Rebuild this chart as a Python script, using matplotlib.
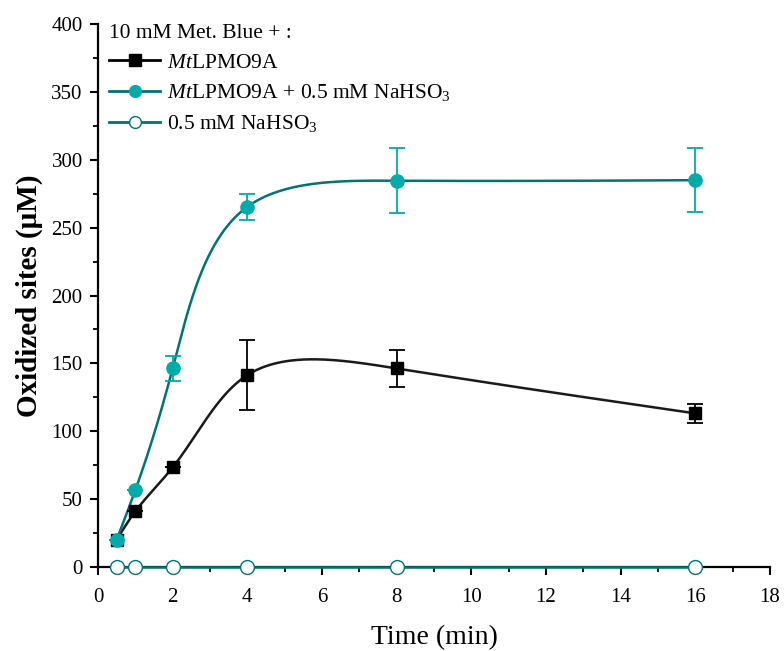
import numpy as np
import matplotlib
matplotlib.use("Agg")
import matplotlib.pyplot as plt
from matplotlib.ticker import MultipleLocator

plt.rcParams["font.family"] = ["Liberation Serif", "DejaVu Serif"]
plt.rcParams["mathtext.fontset"] = "custom"
plt.rcParams["mathtext.rm"] = "Liberation Serif"
plt.rcParams["mathtext.it"] = "Liberation Serif:italic"
plt.rcParams["mathtext.bf"] = "Liberation Serif:bold"

# Sampling times (min)
time_min = [0.5, 1, 2, 4, 8, 16]

# Oxidized sites (µM) and standard deviations
lpmo_mean = [20, 41, 73.4, 141.4, 146.3, 113.2]
lpmo_err = [0, 0, 0, 26, 13.5, 7]
lpmo_bis_mean = [20, 56.7, 146.3, 265.4, 284.6, 285.0]
lpmo_bis_err = [0, 0, 9, 9.5, 24, 23.5]
bis_mean = [0, 0, 0, 0, 0, 0]

legend_title = "10 mM Met. Blue + :"
labels = [r"$Mt$LPMO9A",
          r"$Mt$LPMO9A + 0.5 mM NaHSO$_3$",
          r"0.5 mM NaHSO$_3$"]

XMAX, YMAX = 18, 400


def natural_coeffs(t, v):
    k = len(t)
    h = np.diff(t)
    A = np.zeros((k, k))
    b = np.zeros(k)
    A[0, 0] = A[-1, -1] = 1.0
    for i in range(1, k - 1):
        A[i, i - 1] = h[i - 1]
        A[i, i] = 2 * (h[i - 1] + h[i])
        A[i, i + 1] = h[i]
        b[i] = 6 * ((v[i + 1] - v[i]) / h[i] - (v[i] - v[i - 1]) / h[i - 1])
    return np.linalg.solve(A, b)


def eval_spline(t, v, M, ts):
    k = len(t)
    idx = np.clip(np.searchsorted(t, ts) - 1, 0, k - 2)
    t0, t1 = t[idx], t[idx + 1]
    hh = t1 - t0
    a = (t1 - ts) / hh
    c = (ts - t0) / hh
    return (a * v[idx] + c * v[idx + 1]
            + ((a ** 3 - a) * M[idx] + (c ** 3 - c) * M[idx + 1]) * hh ** 2 / 6)


def parametric_spline(x, y, sx, sy, n=600):
    """Parametric natural cubic spline, chord-length parameter in scaled units."""
    x = np.asarray(x, float)
    y = np.asarray(y, float)
    u, w = x * sx, y * sy
    t = np.concatenate([[0], np.cumsum(np.hypot(np.diff(u), np.diff(w)))])
    ts = np.linspace(0, t[-1], n)
    xs = eval_spline(t, x, natural_coeffs(t, x), ts)
    ys = eval_spline(t, y, natural_coeffs(t, y), ts)
    return xs, ys


dark_teal = "#007373"
teal = "#00ABA8"

fig = plt.figure(figsize=(7.84, 6.51), dpi=100)
ax = fig.add_axes([0.125, 0.129, 0.857, 0.834])

# scale factors: axis data units -> approx. screen units
sx = 0.857 * 784 / XMAX
sy = 0.834 * 651 / YMAX

# MtLPMO9A
xs, ys = parametric_spline(time_min, lpmo_mean, sx, sy)
ax.plot(xs, ys, color="#1a1a1a", lw=1.8, zorder=3)
ax.errorbar(time_min, lpmo_mean, yerr=lpmo_err, fmt="none", ecolor="black",
            elinewidth=1.3, capsize=6, capthick=1.3, zorder=4)
ax.plot(time_min, lpmo_mean, ls="none", marker="s", ms=8.5, color="black", zorder=5)

# MtLPMO9A + NaHSO3
xs, ys = parametric_spline(time_min, lpmo_bis_mean, sx, sy)
ax.plot(xs, ys, color=dark_teal, lw=1.8, zorder=3)
ax.errorbar(time_min, lpmo_bis_mean, yerr=lpmo_bis_err, fmt="none", ecolor=teal,
            elinewidth=1.3, capsize=6, capthick=1.3, zorder=4)
ax.plot(time_min, lpmo_bis_mean, ls="none", marker="o", ms=9.5, color=teal, zorder=5)

# NaHSO3 only
ax.plot(time_min, bis_mean, color=dark_teal, lw=1.8, zorder=6, clip_on=False)
ax.plot(time_min, bis_mean, ls="none", marker="o", ms=10, mfc="white",
        mec=dark_teal, mew=1.0, zorder=7, clip_on=False)

# Legend proxies (line + marker)
h1, = ax.plot([], [], color="black", lw=2.0, marker="s", ms=8)
h2, = ax.plot([], [], color=dark_teal, lw=2.0, marker="o", ms=8.5,
              mfc=teal, mec=teal)
h3, = ax.plot([], [], color=dark_teal, lw=2.0, marker="o", ms=8.5,
              mfc="white", mec=dark_teal, mew=1.0)
leg = ax.legend([h1, h2, h3], labels, title=legend_title, loc="upper left",
                bbox_to_anchor=(0.0, 1.02), frameon=False, fontsize=15.5,
                title_fontsize=15.5, handlelength=2.4, handletextpad=0.3,
                labelspacing=0.45, borderaxespad=0.3, borderpad=0.2)
leg._legend_box.align = "left"

ax.set_xlim(0, XMAX)
ax.set_ylim(0, YMAX)
ax.xaxis.set_major_locator(MultipleLocator(2))
ax.xaxis.set_minor_locator(MultipleLocator(1))
ax.yaxis.set_major_locator(MultipleLocator(50))
ax.yaxis.set_minor_locator(MultipleLocator(25))

for side in ("top", "right"):
    ax.spines[side].set_visible(False)
for side in ("left", "bottom"):
    ax.spines[side].set_linewidth(1.6)

ax.tick_params(which="major", direction="out", length=6, width=1.5,
               labelsize=15, pad=5)
ax.tick_params(axis="x", which="major", pad=9)
ax.tick_params(which="minor", direction="out", length=3.5, width=1.3)

ax.set_xlabel("Time (min)", fontsize=20, labelpad=13)
ax.set_ylabel("Oxidized sites (\u03bcM)", fontsize=21, fontweight="bold",
              labelpad=6)

fig.savefig("out.png", dpi=100)
